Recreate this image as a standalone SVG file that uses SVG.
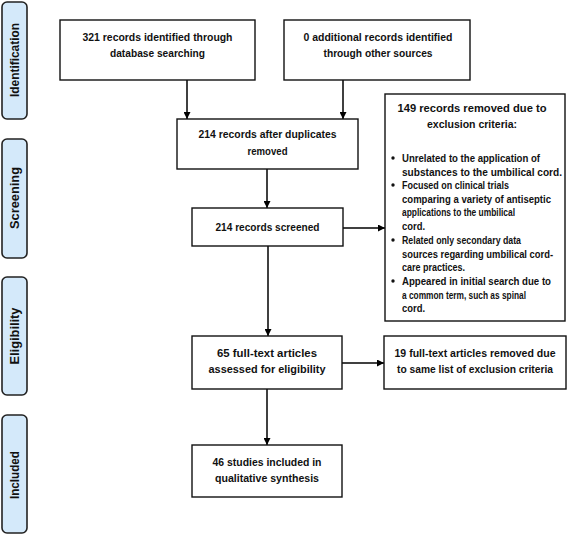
<svg xmlns="http://www.w3.org/2000/svg" width="567" height="535" viewBox="0 0 567 535">
<defs>
<marker id="ah" viewBox="0 0 10 10" refX="10" refY="5" markerWidth="7" markerHeight="7" markerUnits="userSpaceOnUse" orient="auto">
<path d="M0,0 L10,5 L0,10 z" fill="#000"/>
</marker>
<style>
.box{fill:#fff;stroke:#111;stroke-width:1.4}
.side{fill:#d4e9fa;stroke:#222;stroke-width:1.6}
.t{font-family:"Liberation Sans",Arial,sans-serif;font-weight:bold;font-size:11px;fill:#111;text-anchor:middle}
.b{font-family:"Liberation Sans",Arial,sans-serif;font-weight:bold;font-size:10px;fill:#111}
.s{font-family:"Liberation Sans",Arial,sans-serif;font-weight:bold;font-size:12px;fill:#111;text-anchor:middle}
.c{fill:none;stroke:#000;stroke-width:1.5;marker-end:url(#ah)}
</style>
</defs>
<rect width="567" height="535" fill="#fff"/>

<g id="stage-identification">
<rect class="side" x="2" y="2" width="25" height="117" rx="5"/>
<text class="s" transform="translate(19,60) rotate(-90)" textLength="74" lengthAdjust="spacingAndGlyphs">Identification</text>
</g>
<g id="stage-screening">
<rect class="side" x="2" y="139" width="25" height="119" rx="5"/>
<text class="s" transform="translate(19,198) rotate(-90)" textLength="62" lengthAdjust="spacingAndGlyphs">Screening</text>
</g>
<g id="stage-eligibility">
<rect class="side" x="2" y="277" width="25" height="118" rx="5"/>
<text class="s" transform="translate(19,336) rotate(-90)" textLength="57" lengthAdjust="spacingAndGlyphs">Eligibility</text>
</g>
<g id="stage-included">
<rect class="side" x="2" y="415" width="25" height="118" rx="5"/>
<text class="s" transform="translate(19,475) rotate(-90)" textLength="48" lengthAdjust="spacingAndGlyphs">Included</text>
</g>

<g id="connectors">
<line class="c" x1="187" y1="80" x2="187" y2="119"/>
<line class="c" x1="343" y1="80" x2="343" y2="119"/>
<line class="c" x1="267" y1="169" x2="267" y2="208"/>
<line class="c" x1="343" y1="228" x2="385" y2="228"/>
<line class="c" x1="268" y1="246" x2="268" y2="336"/>
<line class="c" x1="342" y1="363" x2="384" y2="363"/>
<line class="c" x1="267" y1="389" x2="267" y2="445"/>
</g>

<g id="n-database">
<rect class="box" x="60" y="20" width="195" height="60"/>
<text class="t" x="157.5" y="41" textLength="150" lengthAdjust="spacingAndGlyphs">321 records identified through</text>
<text class="t" x="157.5" y="57" textLength="95" lengthAdjust="spacingAndGlyphs">database searching</text>
</g>
<g id="n-other">
<rect class="box" x="284" y="20" width="186" height="60"/>
<text class="t" x="378" y="41" textLength="149" lengthAdjust="spacingAndGlyphs">0 additional records identified</text>
<text class="t" x="378" y="57" textLength="109" lengthAdjust="spacingAndGlyphs">through other sources</text>
</g>
<g id="n-dedup">
<rect class="box" x="177" y="119" width="181" height="50"/>
<text class="t" x="267.5" y="138" textLength="138" lengthAdjust="spacingAndGlyphs">214 records after duplicates</text>
<text class="t" x="267.5" y="155" textLength="40" lengthAdjust="spacingAndGlyphs">removed</text>
</g>
<g id="n-excluded">
<rect class="box" x="385" y="94" width="180" height="227"/>
<text class="t" x="472" y="112" textLength="149" lengthAdjust="spacingAndGlyphs">149 records removed due to</text>
<text class="t" x="472" y="128" textLength="90" lengthAdjust="spacingAndGlyphs">exclusion criteria:</text>
<circle cx="393" cy="158" r="1.7" fill="#111"/>
<text class="b" x="402" y="162" textLength="138" lengthAdjust="spacingAndGlyphs">Unrelated to the application of</text>
<text class="b" x="402" y="175.5" textLength="160" lengthAdjust="spacingAndGlyphs">substances to the umbilical cord.</text>
<circle cx="393" cy="185" r="1.7" fill="#111"/>
<text class="b" x="402" y="189" textLength="107" lengthAdjust="spacingAndGlyphs">Focused on clinical trials</text>
<text class="b" x="402" y="202.5" textLength="149" lengthAdjust="spacingAndGlyphs">comparing a variety of antiseptic</text>
<text class="b" x="402" y="216" textLength="113" lengthAdjust="spacingAndGlyphs">applications to the umbilical</text>
<text class="b" x="402" y="229.5" textLength="23" lengthAdjust="spacingAndGlyphs">cord.</text>
<circle cx="393" cy="240" r="1.7" fill="#111"/>
<text class="b" x="402" y="244" textLength="119" lengthAdjust="spacingAndGlyphs">Related only secondary data</text>
<text class="b" x="402" y="257.5" textLength="151" lengthAdjust="spacingAndGlyphs">sources regarding umbilical cord-</text>
<text class="b" x="402" y="271" textLength="63" lengthAdjust="spacingAndGlyphs">care practices.</text>
<circle cx="393" cy="281" r="1.7" fill="#111"/>
<text class="b" x="402" y="285" textLength="149" lengthAdjust="spacingAndGlyphs">Appeared in initial search due to</text>
<text class="b" x="402" y="298.5" textLength="124" lengthAdjust="spacingAndGlyphs">a common term, such as spinal</text>
<text class="b" x="402" y="312" textLength="23" lengthAdjust="spacingAndGlyphs">cord.</text>
</g>
<g id="n-screened">
<rect class="box" x="192" y="208" width="151" height="38"/>
<text class="t" x="267.5" y="231" textLength="104" lengthAdjust="spacingAndGlyphs">214 records screened</text>
</g>
<g id="n-fulltext">
<rect class="box" x="192" y="336" width="150" height="53"/>
<text class="t" x="267" y="357" textLength="100" lengthAdjust="spacingAndGlyphs">65 full-text articles</text>
<text class="t" x="267" y="373" textLength="117" lengthAdjust="spacingAndGlyphs">assessed for eligibility</text>
</g>
<g id="n-ftremoved">
<rect class="box" x="384" y="336" width="182" height="53"/>
<text class="t" x="475" y="357" textLength="161" lengthAdjust="spacingAndGlyphs">19 full-text articles removed due</text>
<text class="t" x="475" y="373" textLength="156" lengthAdjust="spacingAndGlyphs">to same list of exclusion criteria</text>
</g>
<g id="n-included">
<rect class="box" x="192" y="445" width="150" height="52"/>
<text class="t" x="267" y="466" textLength="109" lengthAdjust="spacingAndGlyphs">46 studies included in</text>
<text class="t" x="267" y="482" textLength="104" lengthAdjust="spacingAndGlyphs">qualitative synthesis</text>
</g>
</svg>
